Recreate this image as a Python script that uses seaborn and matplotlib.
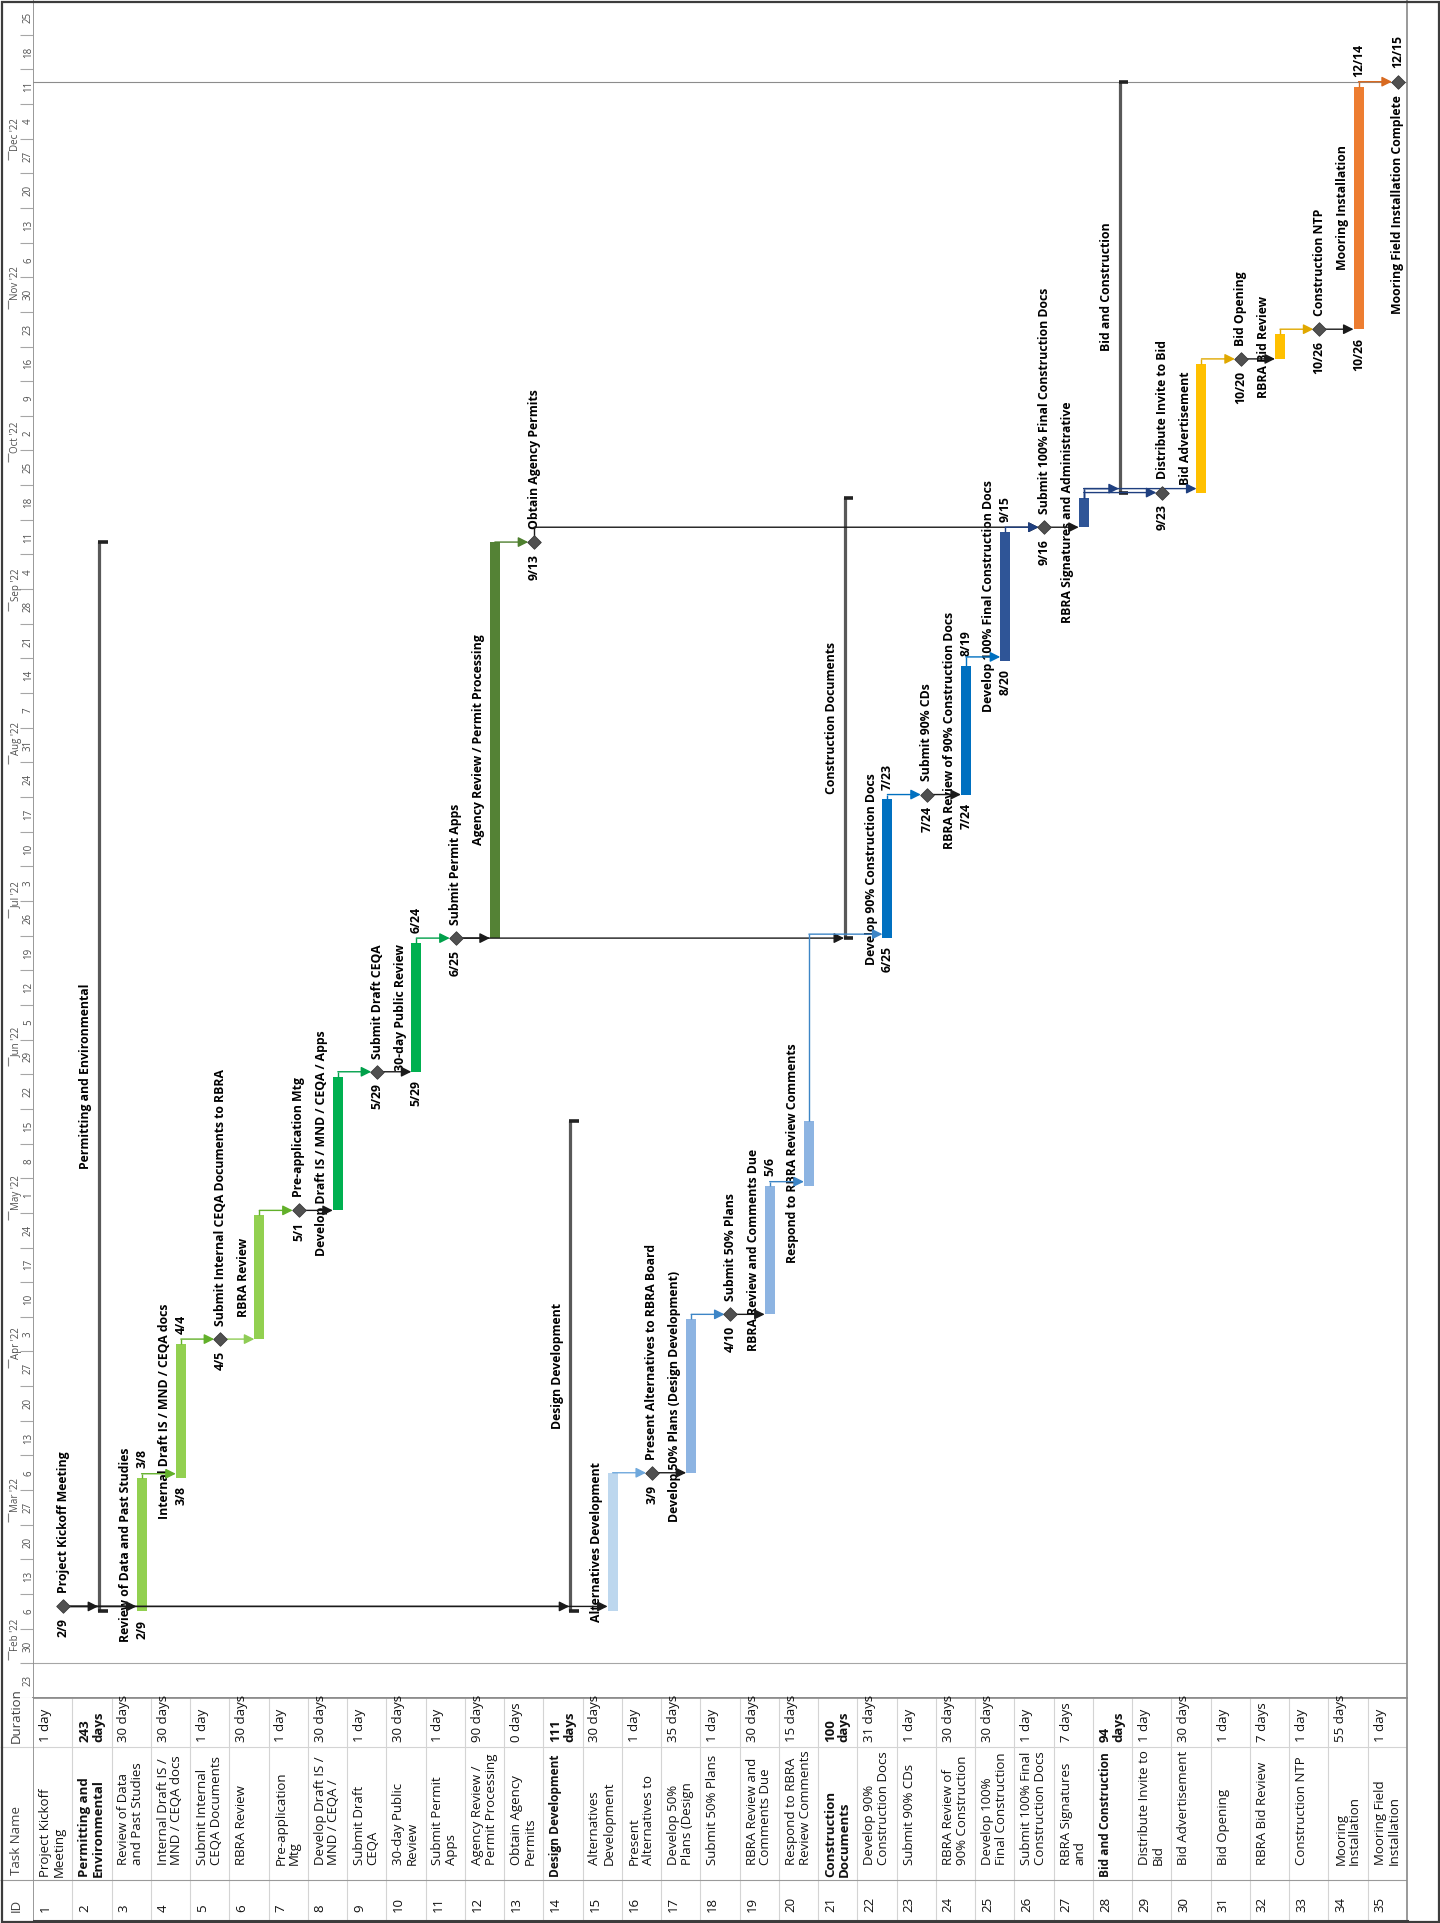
import matplotlib
matplotlib.use("Agg")
import matplotlib.pyplot as plt
import matplotlib.dates as mdates
from matplotlib.patches import Rectangle
import numpy as np
import pandas as pd
import seaborn as sns

W, H = 1440, 1923

task_ids = list(range(1, 36))
task_names = [
    "Project Kickoff Meeting", "Permitting and Environmental",
    "Review of Data and Past Studies", "Internal Draft IS / MND / CEQA docs",
    "Submit Internal CEQA Documents to RBRA", "RBRA Review", "Pre-application Mtg",
    "Develop Draft IS / MND / CEQA / Apps", "Submit Draft CEQA", "30-day Public Review",
    "Submit Permit Apps", "Agency Review / Permit Processing", "Obtain Agency Permits",
    "Design Development", "Alternatives Development", "Present Alternatives to RBRA Board",
    "Develop 50% Plans (Design Development)", "Submit 50% Plans",
    "RBRA Review and Comments Due", "Respond to RBRA Review Comments",
    "Construction Documents", "Develop 90% Construction Docs", "Submit 90% CDs",
    "RBRA Review of 90% Construction Docs", "Develop 100% Final Construction Docs",
    "Submit 100% Final Construction Docs", "RBRA Signatures and Administrative",
    "Bid and Construction", "Distribute Invite to Bid", "Bid Advertisement", "Bid Opening",
    "RBRA Bid Review", "Construction NTP", "Mooring Installation",
    "Mooring Field Installation Complete",
]
table_names = [
    "Project Kickoff\nMeeting", "Permitting and\nEnvironmental", "Review of Data\nand Past Studies",
    "Internal Draft IS /\nMND / CEQA docs", "Submit Internal\nCEQA Documents", "RBRA Review",
    "Pre-application\nMtg", "Develop Draft IS /\nMND / CEQA /", "Submit Draft\nCEQA",
    "30-day Public\nReview", "Submit Permit\nApps", "Agency Review /\nPermit Processing",
    "Obtain Agency\nPermits", "Design Development", "Alternatives\nDevelopment",
    "Present\nAlternatives to", "Develop 50%\nPlans (Design", "Submit 50% Plans",
    "RBRA Review and\nComments Due", "Respond to RBRA\nReview Comments", "Construction\nDocuments",
    "Develop 90%\nConstruction Docs", "Submit 90% CDs", "RBRA Review of\n90% Construction",
    "Develop 100%\nFinal Construction", "Submit 100% Final\nConstruction Docs", "RBRA Signatures\nand",
    "Bid and Construction", "Distribute Invite to\nBid", "Bid Advertisement", "Bid Opening",
    "RBRA Bid Review", "Construction NTP", "Mooring\nInstallation", "Mooring Field\nInstallation",
]
durations = [
    "1 day", "243\ndays", "30 days", "30 days", "1 day", "30 days", "1 day", "30 days", "1 day",
    "30 days", "1 day", "90 days", "0 days", "111\ndays", "30 days", "1 day", "35 days", "1 day",
    "30 days", "15 days", "100\ndays", "31 days", "1 day", "30 days", "30 days", "1 day", "7 days",
    "94\ndays", "1 day", "30 days", "1 day", "7 days", "1 day", "55 days", "1 day",
]
# T = task bar, M = milestone, S = summary
kinds = list("MSTTMTMTMTMTMSTMTMTTSTMTTMTSMTMTMTM")
starts = [
    "2022-02-10", "2022-02-09", "2022-02-09", "2022-03-08", "2022-04-05", "2022-04-05",
    "2022-05-01", "2022-05-01", "2022-05-29", "2022-05-29", "2022-06-25", "2022-06-25",
    "2022-09-13", "2022-02-09", "2022-02-09", "2022-03-09", "2022-03-09", "2022-04-10",
    "2022-04-10", "2022-05-06", "2022-06-25", "2022-06-25", "2022-07-24", "2022-07-24",
    "2022-08-20", "2022-09-16", "2022-09-16", "2022-09-23", "2022-09-23", "2022-09-23",
    "2022-10-20", "2022-10-20", "2022-10-26", "2022-10-26", "2022-12-15",
]
finishes = [
    "2022-02-10", "2022-09-13", "2022-03-08", "2022-04-04", "2022-04-05", "2022-04-30",
    "2022-05-01", "2022-05-28", "2022-05-29", "2022-06-24", "2022-06-25", "2022-09-13",
    "2022-09-13", "2022-05-19", "2022-03-09", "2022-03-09", "2022-04-09", "2022-04-10",
    "2022-05-06", "2022-05-19", "2022-09-22", "2022-07-23", "2022-07-24", "2022-08-19",
    "2022-09-15", "2022-09-16", "2022-09-22", "2022-12-15", "2022-09-23", "2022-10-19",
    "2022-10-20", "2022-10-25", "2022-10-26", "2022-12-14", "2022-12-15",
]
bar_colors = {
    3: "#92D050", 4: "#92D050", 6: "#92D050", 8: "#00B050", 10: "#00B050", 12: "#548235",
    15: "#BDD7EE", 17: "#8DB4E2", 19: "#8DB4E2", 20: "#8DB4E2", 22: "#0070C0", 24: "#0070C0",
    25: "#2F5597", 27: "#2F5597", 30: "#FFC000", 32: "#FFC000", 34: "#ED7D31",
}
start_labels = {
    1: "2/9", 3: "2/9", 4: "3/8", 5: "4/5", 7: "5/1", 9: "5/29", 10: "5/29", 11: "6/25",
    13: "9/13", 16: "3/9", 18: "4/10", 22: "6/25", 23: "7/24", 24: "7/24", 25: "8/20",
    26: "9/16", 29: "9/23", 31: "10/20", 33: "10/26", 34: "10/26",
}
finish_labels = {
    3: "3/8", 4: "4/4", 10: "6/24", 19: "5/6", 22: "7/23", 24: "8/19", 25: "9/15",
    34: "12/14", 35: "12/15",
}
link_pairs = [
    (1, 2), (1, 3), (1, 14), (1, 15), (3, 4), (4, 5), (5, 6), (6, 7), (7, 8), (8, 9),
    (9, 10), (10, 11), (11, 12), (11, 21), (12, 13), (13, 26), (15, 16), (16, 17),
    (17, 18), (18, 19), (19, 20), (20, 22), (22, 23), (23, 24), (24, 25), (25, 26),
    (26, 27), (27, 28), (27, 29), (27, 30), (30, 31), (31, 32), (32, 33), (33, 34), (34, 35),
]
link_colors = [
    "#1A1A1A", "#1A1A1A", "#1A1A1A", "#1A1A1A", "#62B02A", "#62B02A", "#8FCC55", "#62B02A",
    "#1A1A1A", "#00A04A", "#1A1A1A", "#00A04A", "#1A1A1A", "#1A1A1A", "#4E7F2E", "#1A1A1A",
    "#6FA8DC", "#1A1A1A", "#3D85C6", "#1A1A1A", "#3D85C6", "#3D85C6", "#0070C0", "#1A1A1A",
    "#0070C0", "#1F3F7F", "#1A1A1A", "#1F3F7F", "#1F3F7F", "#1F3F7F", "#E0A800", "#1A1A1A",
    "#E0A800", "#1A1A1A", "#D86A20",
]
timescale_from = "2022-01-23"
timescale_to = "2023-01-01"
project_finish = "2022-12-15"
# ------------------------------------------------------------

sns.set_theme(style="white")
plt.rcParams["font.family"] = ["Open Sans", "DejaVu Sans"]

LBL = dict(fontsize=8.8, fontweight="bold", color="#000000", rotation=90, rotation_mode="anchor")
BAR_OFF = 0.265      # bar sits in the lower part of each row
BAR_W = 0.255
NAME_OFF = -0.15
HALF = pd.Timedelta(hours=12)


def when(s):
    return mdates.date2num(pd.Timestamp(s) + HALF)


def frac(x0, y0, x1, y1):
    return [x0 / W, 1 - y1 / H, (x1 - x0) / W, (y1 - y0) / H]


df = pd.DataFrame({"id": task_ids, "name": task_names, "kind": kinds,
                   "t0": [when(s) for s in starts], "t1": [when(s) for s in finishes]})
df["x"] = df["id"] + BAR_OFF

fig = plt.figure(figsize=(W / 100, H / 100), dpi=100)
ax = fig.add_axes(frac(33, 0, 1407, 1698))
tax = fig.add_axes(frac(0, 0, 33, 1698), sharey=ax)
tbl = fig.add_axes(frac(33, 1698, 1407, 1921), sharex=ax)
hdr = fig.add_axes(frac(0, 1698, 33, 1921))

y_lo, y_hi = mdates.date2num(pd.Timestamp(timescale_from)), mdates.date2num(pd.Timestamp(timescale_to))
ax.set_xlim(0.5, 35.5)
ax.set_ylim(y_lo, y_hi)
for a in (ax, tax, tbl, hdr):
    a.set_xticks([])
    a.set_yticks([])
    a.set_facecolor("white")
for side in ("left", "right", "bottom"):
    ax.spines[side].set_color("#8C8C8C")
ax.spines["top"].set_visible(False)

# weeks / months timescale
sundays = pd.date_range(timescale_from, "2022-12-25", freq="7D")
tax.set_xlim(0, 33)
for sp in tax.spines.values():
    sp.set_visible(False)
tax.hlines(mdates.date2num(sundays), 20, 33, color="#A6A6A6", lw=0.8)
for d in sundays:
    tax.text(28.5, mdates.date2num(d + pd.Timedelta(days=3.5)), str(d.day), rotation=90,
             ha="center", va="center", fontsize=7, color="#505050")
months = pd.date_range("2022-02-01", "2022-12-01", freq="MS")
for m in months:
    mn = mdates.date2num(m)
    tax.vlines(8, mn - 1.4, mn + 0.4, color="#7F7F7F", lw=0.8)
    tax.text(16, mn + 0.5, m.strftime("%b '%y"), rotation=90, rotation_mode="anchor",
             ha="left", va="center", fontsize=7, color="#505050")

ax.axhline(mdates.date2num(sundays[1]), color="#A6A6A6", lw=0.8)
ax.axhline(when(project_finish), color="#8C8C8C", lw=0.8)

# task bars
bars = df[df.kind == "T"]
ax.bar(bars["x"], bars["t1"] - bars["t0"], bottom=bars["t0"], width=BAR_W,
       color=[bar_colors[i] for i in bars["id"]], linewidth=0, zorder=3)

# summary brackets
for _, r in df[df.kind == "S"].iterrows():
    xl = r.id + 0.18
    ax.vlines(xl, r.t0, r.t1, color="#595959", lw=2.3, zorder=3)
    ax.hlines([r.t0, r.t1], xl - 0.02, r.id + 0.4, color="#222222", lw=2.6, zorder=3)

# milestones
ms = df[df.kind == "M"]
sns.scatterplot(x=ms["x"], y=ms["t0"], marker="D", s=48, color="#505050",
                edgecolor="#3A3A3A", linewidth=0.6, ax=ax, zorder=5, legend=False)
ax.set_xlabel("")
ax.set_ylabel("")


# dependency links
def target_x(i):
    k = kinds[i - 1]
    if k == "T":
        return i + BAR_OFF - BAR_W / 2
    if k == "M":
        return i + BAR_OFF - 0.15
    return i + 0.16


for (p, s), c in zip(link_pairs, link_colors):
    rp, rs = df.iloc[p - 1], df.iloc[s - 1]
    if rs.kind == "M":
        yh = rs.t0
    elif rp.kind == "M" and rp.t1 >= rs.t0:
        yh = rp.t1
    else:
        yh = max(rp.t1, rs.t0) + 0.8
    x0 = rp.x + (0.12 if rp.kind == "M" else 0.0)
    if yh > rp.t1 + 0.01:
        x0 = rp.x
        ax.plot([x0, x0], [rp.t1, yh], color=c, lw=1.0, zorder=4, solid_capstyle="butt")
    ax.annotate("", xy=(target_x(s), yh), xytext=(x0, yh),
                arrowprops=dict(arrowstyle="-|>", color=c, lw=1.0, mutation_scale=15,
                                shrinkA=0, shrinkB=0), zorder=4)

# labels on the chart
name_below = {35}
for _, r in df.iterrows():
    i = r.id
    if r.kind == "M":
        if i in name_below:
            ax.annotate(r["name"], (r.x, r.t0), xytext=(0, -10), textcoords="offset points",
                        ha="right", va="center", **LBL)
        else:
            ax.annotate(r["name"], (r.x, r.t0), xytext=(0, 9.5), textcoords="offset points",
                        ha="left", va="center", **LBL)
    else:
        ax.annotate(r["name"], (i + NAME_OFF, (r.t0 + r.t1) / 2), ha="center", va="center", **LBL)
    if i in start_labels:
        ax.annotate(start_labels[i], (r.x, r.t0), xytext=(0, -8.5 if r.kind == "M" else -6),
                    textcoords="offset points", ha="right", va="center", **LBL)
    if i in finish_labels:
        ax.annotate(finish_labels[i], (r.x, r.t1), xytext=(0, 10 if r.kind == "M" else 7),
                    textcoords="offset points", ha="left", va="center", **LBL)

# task table
tbl.set_ylim(223, 0)
tbl.vlines(np.arange(1.5, 35.5), 0, 223, color="#D4D4D4", lw=0.8)
tbl.hlines(49, 0.5, 35.5, color="#D4D4D4", lw=0.8)
tbl.hlines(182, 0.5, 35.5, color="#9A9A9A", lw=0.8)
for side in ("top", "left", "right"):
    tbl.spines[side].set_color("#8C8C8C")
tbl.spines["bottom"].set_color("#404040")
tbl.spines["bottom"].set_linewidth(2.2)
TXT = dict(rotation=90, rotation_mode="anchor", ha="left", va="top", fontsize=9.5,
           color="#111111", linespacing=1.08)
for i, nm, du, k in zip(task_ids, table_names, durations, kinds):
    xl = i - 0.5 + 0.15
    wt = "bold" if k == "S" else "normal"
    indent = 0 if k == "S" or i == 1 else 12
    one_line_bold = k == "S" and "\n" not in nm
    tbl.text(xl, 179 - indent, nm, fontweight=wt,
             **{**TXT, "fontsize": 8.6 if one_line_bold else 9.5})
    tbl.text(xl, 44, du, fontweight=wt, **TXT)
    tbl.text(xl, 214, str(i), **TXT)

hdr.set_xlim(0, 33)
hdr.set_ylim(223, 0)
for sp in hdr.spines.values():
    sp.set_visible(False)
hdr.hlines([49, 182], 0, 33, color=["#D4D4D4", "#9A9A9A"], lw=0.8)
for lab, yy in [("ID", 214), ("Task Name", 177), ("Duration", 45)]:
    hdr.text(10, yy, lab, **{**TXT, "color": "#404040"})

# outer frame
fig.patches.append(Rectangle((1.5, 1.5), W - 3, H - 3, transform=None, fill=False,
                             edgecolor="#3C3C3C", lw=1.6))

fig.savefig("out.png", dpi=100, facecolor="white")
